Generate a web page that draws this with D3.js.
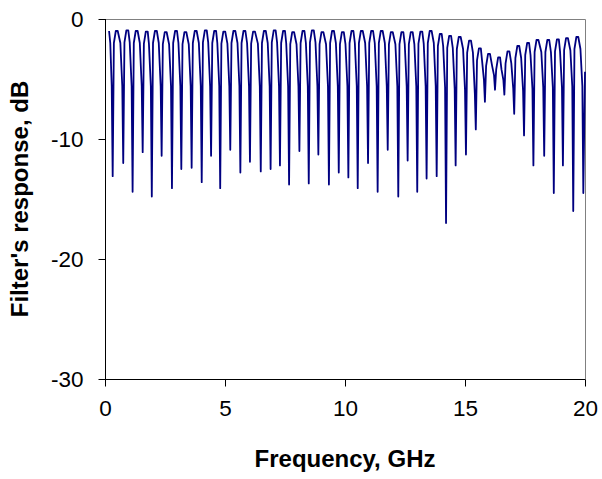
<!DOCTYPE html>
<html>
<head>
<meta charset="utf-8">
<script src="https://cdn.jsdelivr.net/npm/d3@7"></script>
<style>
  html, body { margin: 0; padding: 0; background: #ffffff; }
  svg { display: block; }
  text { font-family: "Liberation Sans", Arial, Helvetica, sans-serif; fill: #000; }
</style>
</head>
<body>
<svg id="chart" width="602" height="479"></svg>
<script>
// Filter transmission (dB) versus frequency (GHz), vertices of the measured trace
const freqGHz = [
  0.17, 0.22, 0.28,
  0.32, 0.37, 0.45, 0.53, 0.64, 0.72,
  0.76, 0.81, 0.89, 0.97, 1.03, 1.11,
  1.15, 1.20, 1.28, 1.36, 1.45, 1.53,
  1.57, 1.62, 1.70, 1.78, 1.83, 1.91,
  1.95, 2.00, 2.08, 2.16, 2.24, 2.32,
  2.36, 2.41, 2.49, 2.57, 2.67, 2.75,
  2.79, 2.84, 2.92, 3.00, 3.06, 3.14,
  3.18, 3.23, 3.31, 3.39, 3.49, 3.57,
  3.61, 3.66, 3.74, 3.82, 3.91, 3.99,
  4.03, 4.08, 4.16, 4.24, 4.30, 4.38,
  4.42, 4.47, 4.55, 4.63, 4.68, 4.76,
  4.80, 4.85, 4.93, 5.01, 5.10, 5.18,
  5.22, 5.27, 5.35, 5.43, 5.52, 5.60,
  5.64, 5.69, 5.77, 5.85, 5.92, 6.00,
  6.04, 6.09, 6.17, 6.25, 6.37, 6.45,
  6.49, 6.54, 6.62, 6.70, 6.78, 6.86,
  6.90, 6.95, 7.03, 7.11, 7.17, 7.25,
  7.29, 7.34, 7.42, 7.50, 7.55, 7.63,
  7.67, 7.72, 7.80, 7.88, 7.98, 8.06,
  8.10, 8.15, 8.23, 8.31, 8.37, 8.45,
  8.49, 8.54, 8.62, 8.70, 8.77, 8.85,
  8.89, 8.94, 9.02, 9.10, 9.21, 9.29,
  9.33, 9.38, 9.46, 9.54, 9.62, 9.70,
  9.74, 9.79, 9.87, 9.95, 10.02, 10.10,
  10.14, 10.19, 10.27, 10.35, 10.41, 10.49,
  10.53, 10.58, 10.66, 10.74, 10.84, 10.92,
  10.96, 11.01, 11.09, 11.17, 11.24, 11.32,
  11.36, 11.41, 11.49, 11.57, 11.66, 11.74,
  11.78, 11.83, 11.91, 11.99, 12.10, 12.18,
  12.22, 12.27, 12.35, 12.43, 12.49, 12.57,
  12.61, 12.66, 12.74, 12.82, 12.89, 12.97,
  13.01, 13.06, 13.14, 13.22, 13.28, 13.36,
  13.40, 13.45, 13.53, 13.61, 13.70, 13.78,
  13.82, 13.87, 13.95, 14.03, 14.09, 14.17,
  14.21, 14.26, 14.34, 14.42, 14.49, 14.57,
  14.61, 14.66, 14.74, 14.82, 14.92, 15.00,
  15.04, 15.09, 15.17, 15.25, 15.33, 15.41,
  15.45, 15.50, 15.58, 15.66, 15.71, 15.79,
  15.83, 15.88, 15.96, 16.04, 16.13, 16.21,
  16.25, 16.30, 16.38, 16.46, 16.52, 16.60,
  16.64, 16.69, 16.77, 16.85, 16.93, 17.01,
  17.05, 17.10, 17.18, 17.26, 17.34, 17.42,
  17.46, 17.51, 17.59, 17.67, 17.73, 17.81,
  17.85, 17.90, 17.98, 18.06, 18.18, 18.26,
  18.30, 18.35, 18.43, 18.51, 18.58, 18.66,
  18.70, 18.75, 18.83, 18.91, 18.96, 19.04,
  19.08, 19.13, 19.21, 19.29, 19.39, 19.47,
  19.51, 19.56, 19.64, 19.72, 19.81, 19.89,
  19.93, 20.00
];

const responseDb = [
  -1.0, -2.0, -5.6,
  -13.1, -2.0, -1.0, -1.0, -2.0, -5.6,
  -12.0, -1.95, -0.95, -0.95, -1.95, -5.6,
  -14.4, -2.0, -1.0, -1.0, -2.0, -5.6,
  -11.1, -2.05, -1.05, -1.05, -2.05, -5.6,
  -14.8, -2.0, -1.0, -1.0, -2.0, -5.6,
  -11.4, -2.1, -1.1, -1.1, -2.1, -5.6,
  -14.1, -2.0, -1.0, -1.0, -2.0, -5.6,
  -12.5, -2.1, -1.1, -1.1, -2.1, -5.6,
  -12.4, -2.0, -1.0, -1.0, -2.0, -5.6,
  -13.6, -1.95, -0.95, -0.95, -1.95, -5.6,
  -11.4, -2.0, -1.0, -1.0, -2.0, -5.6,
  -14.1, -2.05, -1.05, -1.05, -2.05, -5.6,
  -10.9, -2.0, -1.0, -1.0, -2.0, -5.6,
  -12.8, -2.0, -1.0, -1.0, -2.0, -5.6,
  -11.9, -2.05, -1.05, -1.05, -2.05, -5.6,
  -12.7, -2.0, -1.0, -1.0, -2.0, -5.6,
  -12.5, -1.95, -0.95, -0.95, -1.95, -5.6,
  -12.2, -2.0, -1.0, -1.0, -2.0, -5.6,
  -13.8, -2.1, -1.1, -1.1, -2.1, -5.6,
  -11.0, -2.0, -1.0, -1.0, -2.0, -5.6,
  -13.7, -1.95, -0.95, -0.95, -1.95, -5.6,
  -11.3, -2.1, -1.1, -1.1, -2.1, -5.6,
  -13.8, -2.0, -1.0, -1.0, -2.0, -5.6,
  -12.8, -2.1, -1.1, -1.1, -2.1, -5.6,
  -13.2, -2.0, -1.0, -1.0, -2.0, -5.6,
  -14.1, -2.0, -1.0, -1.0, -2.0, -5.6,
  -12.0, -2.0, -1.0, -1.0, -2.0, -5.6,
  -14.4, -2.0, -1.0, -1.0, -2.0, -5.6,
  -10.9, -2.1, -1.1, -1.1, -2.1, -5.6,
  -14.8, -2.1, -1.1, -1.1, -2.1, -5.6,
  -11.8, -2.1, -1.1, -1.1, -2.1, -5.6,
  -14.4, -2.05, -1.05, -1.05, -2.05, -5.6,
  -13.3, -2.0, -1.0, -1.0, -2.0, -5.6,
  -13.1, -2.25, -1.25, -1.25, -2.25, -5.7,
  -17.0, -2.4, -1.4, -1.4, -2.4, -5.8,
  -12.2, -2.5, -1.5, -1.5, -2.5, -5.9,
  -11.3, -2.8, -1.8, -1.8, -2.8, -6.2,
  -9.2, -3.45, -2.45, -2.45, -3.45, -5.1,
  -6.9, -3.9, -2.9, -2.9, -3.9, -4.7,
  -5.9, -4.2, -3.2, -3.2, -4.2, -5.1,
  -6.3, -3.7, -2.7, -2.7, -3.7, -5.8,
  -7.9, -3.25, -2.25, -2.25, -3.25, -6.0,
  -9.7, -3.0, -2.0, -2.0, -3.0, -5.8,
  -12.2, -2.75, -1.75, -1.75, -2.75, -5.7,
  -11.4, -2.75, -1.75, -1.75, -2.75, -5.7,
  -14.5, -2.7, -1.7, -1.7, -2.7, -5.7,
  -12.2, -2.6, -1.6, -1.6, -2.6, -5.6,
  -16.0, -2.5, -1.5, -1.5, -2.5, -5.6,
  -14.5, -4.4
];

const xTicks = [0, 5, 10, 15, 20];
const yTicks = [0, -10, -20, -30];
const xTitle = "Frequency, GHz";
const yTitle = "Filter's response, dB";

const svg = d3.select("#chart");
const W = 602, H = 479;
const plot = { left: 105, right: 585, top: 19, bottom: 379 };

svg.append("rect").attr("width", W).attr("height", H).attr("fill", "#ffffff");

const x = d3.scaleLinear().domain([0, 20]).range([plot.left, plot.right]);
const y = d3.scaleLinear().domain([-30, 0]).range([plot.bottom, plot.top]);

// Plot frame: grey on the top and right sides
svg.append("path")
  .attr("d", `M${plot.left},${plot.top + 0.5}H${plot.right + 0.5}V${plot.bottom}`)
  .attr("fill", "none")
  .attr("stroke", "#808080")
  .attr("stroke-width", 1);

// Response trace
const points = freqGHz.map((f, i) => [f, responseDb[i]]);
const line = d3.line().x(d => x(d[0])).y(d => y(d[1]));
const clip = svg.append("clipPath").attr("id", "plotClip");
clip.append("rect")
  .attr("x", plot.left).attr("y", plot.top - 2)
  .attr("width", plot.right - plot.left + 1).attr("height", plot.bottom - plot.top + 2);

svg.append("path")
  .datum(points)
  .attr("clip-path", "url(#plotClip)")
  .attr("fill", "none")
  .attr("stroke", "#000080")
  .attr("stroke-width", 1.8)
  .attr("stroke-linejoin", "round")
  .attr("d", line);

// Axes
const xAxis = d3.axisBottom(x).tickValues(xTicks).tickSize(7).tickPadding(14).tickFormat(d3.format("d"));
const yAxis = d3.axisLeft(y).tickValues(yTicks).tickSize(7).tickPadding(15).tickFormat(d => d3.format("d")(d).replace("\u2212", "-"));

const gx = svg.append("g").attr("transform", `translate(0,${plot.bottom + 0.5})`).call(xAxis);
const gy = svg.append("g").attr("transform", `translate(${plot.left + 0.5},0)`).call(yAxis);

[gx, gy].forEach(g => {
  g.select(".domain").attr("stroke", "#000").attr("stroke-width", 1);
  g.selectAll(".tick line").attr("stroke", "#000").attr("stroke-width", 1);
  g.selectAll(".tick text")
    .attr("font-family", "'Liberation Sans', Arial, sans-serif")
    .attr("font-size", 22.5)
    .attr("fill", "#000");
});
gx.selectAll(".domain").attr("d", `M${plot.left},0H${plot.right + 0.5}`);
gy.selectAll(".domain").attr("d", `M0,${plot.top}V${plot.bottom + 0.5}`);

// Axis titles
svg.append("text")
  .attr("x", (plot.left + plot.right) / 2)
  .attr("y", 466.5)
  .attr("text-anchor", "middle")
  .attr("font-size", 24)
  .attr("font-weight", "bold")
  .text(xTitle);

svg.append("text")
  .attr("transform", `translate(28,${(plot.top + plot.bottom) / 2}) rotate(-90)`)
  .attr("text-anchor", "middle")
  .attr("font-size", 24)
  .attr("font-weight", "bold")
  .text(yTitle);
</script>
</body>
</html>
